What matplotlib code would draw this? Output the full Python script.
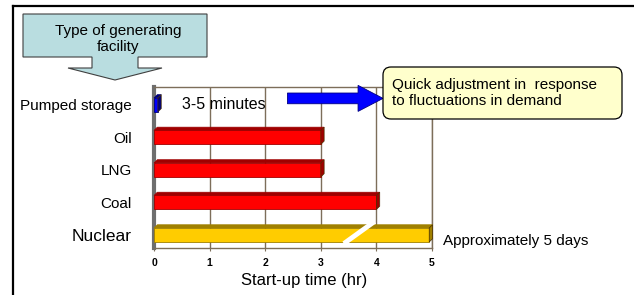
import numpy as np
import matplotlib
matplotlib.use("Agg")
import matplotlib.pyplot as plt
from matplotlib.patches import Polygon, FancyBboxPatch, FancyArrow
from matplotlib.lines import Line2D

plt.rcParams['font.family'] = ['Liberation Sans', 'DejaVu Sans']

# data
facilities = ['Pumped storage', 'Oil', 'LNG', 'Coal', 'Nuclear']
startup_hr = [0.07, 3, 3, 4, 120]   # nuclear ~5 days, axis is cut at 5 hr
bar_colors = ['#0000ff', '#ff0000', '#ff0000', '#ff0000', '#ffcc00']
side_colors = ['#00007a', '#a00000', '#a00000', '#a00000', '#a08000']
x_ticks = [0, 1, 2, 3, 4, 5]
x_max = 5

W, H = 6.34, 2.95
fig = plt.figure(figsize=(W, H), dpi=100)

def px(x, y):
    # pixel coords (top-left origin) -> inches
    return (x / 100, (295 - y) / 100)

ax = fig.add_axes([154 / 634, 1 - 248 / 295, 278 / 634, 161 / 295])
ypos = np.arange(len(facilities))
shown = np.minimum(startup_hr, x_max - 0.05)

grid_c = '#7d6e5a'
for t in x_ticks[1:]:
    ax.axvline(t, color=grid_c, lw=1, zorder=0)

bh = 0.43
dx, dy = 0.06, 0.1
ax.barh(ypos, shown, height=bh, color=bar_colors, edgecolor=side_colors,
        linewidth=0.6, zorder=3)
for y, v, sc in zip(ypos, shown, side_colors):
    top = Polygon([(0, y - bh / 2), (v, y - bh / 2), (v + dx, y - bh / 2 - dy),
                   (dx, y - bh / 2 - dy)], closed=True, facecolor=sc,
                  edgecolor=sc, lw=0.5, zorder=3, clip_on=False)
    cap = Polygon([(v, y - bh / 2), (v + dx, y - bh / 2 - dy),
                   (v + dx, y + bh / 2 - dy), (v, y + bh / 2)], closed=True,
                  facecolor=sc, edgecolor='#4a3000', lw=0.5, zorder=3,
                  clip_on=False)
    ax.add_patch(top)
    ax.add_patch(cap)

# break mark on the nuclear bar
ax.add_line(Line2D([3.45, 3.93], [4.22, 3.63], color='white', lw=3.5,
                   zorder=4, clip_on=False))

ax.set_xlim(0, x_max)
ax.set_ylim(4.4, -0.55)
ax.set_xticks(x_ticks)
ax.set_xticklabels([str(t) for t in x_ticks], fontsize=7.5, fontweight='bold')
ax.tick_params(axis='x', length=2, pad=5, color=grid_c)
ax.set_yticks(ypos)
ax.set_yticklabels(facilities, fontsize=11)
ax.get_yticklabels()[-1].set_fontsize(12.5)
ax.tick_params(axis='y', length=0, pad=16)
for s in ['top', 'right', 'bottom']:
    ax.spines[s].set_color(grid_c)
    ax.spines[s].set_linewidth(1)
ax.spines['left'].set_color('#6e6e6e')
ax.spines['left'].set_linewidth(3)

# blue arrow towards the callout
ax.add_patch(FancyArrow(2.40, -0.2, 1.72, 0, width=0.33, head_width=0.8,
                        head_length=0.45, length_includes_head=True,
                        facecolor='#0000ff', edgecolor='#000080', lw=0.6,
                        zorder=5, clip_on=False))
ax.text(0.5, 0, '3-5 minutes', fontsize=11.5, va='center', ha='left', zorder=5)
ax.text(5.2, 4.2, 'Approximately 5 days', fontsize=11, va='center',
        ha='left', clip_on=False)

fig.text(304 / 634, 1 - 281 / 295, 'Start-up time (hr)', fontsize=12,
         ha='center', va='center')

# callout box
tr = fig.dpi_scale_trans
x0, y0 = px(383, 119)
box = FancyBboxPatch((x0, y0), (622 - 383) / 100, (119 - 67) / 100,
                     boxstyle='round,pad=0,rounding_size=0.08',
                     transform=tr, facecolor='#ffffcc', edgecolor='black',
                     lw=0.9, zorder=6)
fig.patches.append(box)
fig.text(392 / 634, 1 - 93 / 295,
         'Quick adjustment in  response\nto fluctuations in demand',
         fontsize=11, ha='left', va='center', linespacing=1.1, zorder=7)

# "Type of generating facility" arrow shape
shape_px = [(23, 14), (207, 14), (207, 57), (138, 57), (138, 68), (162, 68),
            (115, 80), (68, 68), (92, 68), (92, 57), (23, 57)]
shape = Polygon([px(*p) for p in shape_px], closed=True, transform=tr,
                facecolor='#b9dde0', edgecolor='#404040', lw=0.8)
fig.patches.append(shape)
fig.text(118 / 634, 1 - 39 / 295, 'Type of generating\nfacility',
         fontsize=11, ha='center', va='center', linespacing=1.1)

# outer frame (top and left edges)
fig.add_artist(Line2D([13 / 634, 1], [1 - 6 / 295, 1 - 6 / 295],
                      transform=fig.transFigure, color='black', lw=1.6))
fig.add_artist(Line2D([13 / 634, 13 / 634], [1 - 6 / 295, 0],
                      transform=fig.transFigure, color='black', lw=1.6))

fig.savefig('out.png', dpi=100)
